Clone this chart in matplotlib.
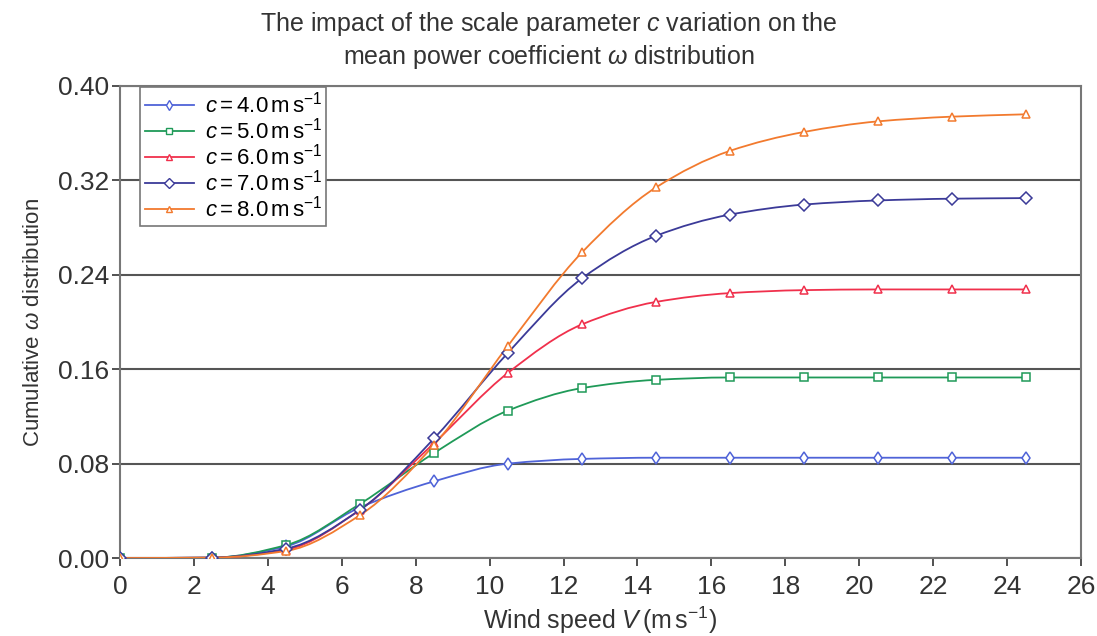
"""
plot.py
Cumulative mean power coefficient distribution for several Weibull scale parameters
"""

import numpy as np
import matplotlib
matplotlib.use("Agg")
import matplotlib.pyplot as plt
from matplotlib.path import Path
from matplotlib.patches import PathPatch

plt.rcParams["font.family"] = ["Liberation Sans", "DejaVu Sans"]
plt.rcParams["mathtext.fontset"] = "custom"
plt.rcParams["mathtext.rm"] = "Liberation Sans"
plt.rcParams["mathtext.it"] = "Liberation Sans:italic"

# wind speed bins (m/s)
wind_speed = [0, 2.5, 4.5, 6.5, 8.5, 10.5, 12.5, 14.5, 16.5, 18.5, 20.5, 22.5, 24.5]

# cumulative omega per scale parameter c
omega_c4 = [0.0, 0.0003, 0.010, 0.043, 0.065, 0.080, 0.084, 0.085, 0.085, 0.085, 0.085, 0.085, 0.085]
omega_c5 = [0.0, 0.0003, 0.011, 0.046, 0.089, 0.125, 0.144, 0.151, 0.153, 0.153, 0.153, 0.153, 0.153]
omega_c6 = [0.0, 0.0003, 0.007, 0.041, 0.0975, 0.157, 0.198, 0.217, 0.2245, 0.227, 0.2276, 0.2276, 0.2276]
omega_c7 = [0.0, 0.0003, 0.008, 0.041, 0.1015, 0.174, 0.237, 0.273, 0.291, 0.2995, 0.303, 0.3045, 0.305]
omega_c8 = [0.0, 0.0003, 0.006, 0.0365, 0.096, 0.180, 0.259, 0.314, 0.345, 0.361, 0.370, 0.374, 0.376]

scale_labels = ["4.0", "5.0", "6.0", "7.0", "8.0"]
series = [omega_c4, omega_c5, omega_c6, omega_c7, omega_c8]
colors = ["#4f63d8", "#1f9a58", "#f0304c", "#3b3a98", "#f27a2e"]
markers = ["d", "s", "^", "D", "^"]


def smooth_path(x, y):
    """Monotone cubic Bezier path through the points (drawing only)."""
    x = np.asarray(x, float)
    y = np.asarray(y, float)
    h = np.diff(x)
    d = np.diff(y) / h
    m = np.zeros_like(y)
    m[0], m[-1] = d[0], d[-1]
    for i in range(1, len(y) - 1):
        if d[i - 1] * d[i] <= 0:
            m[i] = 0.0
        else:
            w1 = 2 * h[i] + h[i - 1]
            w2 = h[i] + 2 * h[i - 1]
            m[i] = (w1 + w2) / (w1 / d[i - 1] + w2 / d[i])
    verts = [(x[0], y[0])]
    codes = [Path.MOVETO]
    for i in range(len(x) - 1):
        verts += [(x[i] + h[i] / 3, y[i] + m[i] * h[i] / 3),
                  (x[i + 1] - h[i] / 3, y[i + 1] - m[i + 1] * h[i] / 3),
                  (x[i + 1], y[i + 1])]
        codes += [Path.CURVE4] * 3
    return Path(verts, codes)


fig = plt.figure(figsize=(10.97, 6.36), dpi=100)
ax = fig.add_axes([0.1094, 0.1226, 0.876, 0.7422])

for vals, col, mk, lab in zip(series, colors, markers, scale_labels):
    ax.add_patch(PathPatch(smooth_path(wind_speed, vals), facecolor="none",
                           edgecolor=col, lw=1.3, zorder=3))
    ax.plot(wind_speed, vals, linestyle="none", marker=mk, markersize=6,
            markerfacecolor="white", markeredgecolor=col, markeredgewidth=1.1,
            zorder=4)
    # legend proxy
    ax.plot([], [], color=col, lw=1.3, marker=mk, markersize=5,
            markerfacecolor="white", markeredgecolor=col,
            label=r"$c = %s\,\mathrm{m\,s^{-1}}$" % lab)

ax.set_xlim(0, 26)
ax.set_ylim(0, 0.40)
ax.set_xticks(np.arange(0, 27, 2))
ax.set_yticks([0.0, 0.08, 0.16, 0.24, 0.32, 0.40])
ax.set_yticklabels(["0.00", "0.08", "0.16", "0.24", "0.32", "0.40"])
ax.tick_params(axis="both", labelsize=19, colors="#333333", length=6,
               width=1.2, direction="out")
ax.tick_params(axis="y", pad=2)
ax.tick_params(axis="x", pad=6)
ax.grid(axis="y", color="#555555", lw=1.5, zorder=1)
for sp in ax.spines.values():
    sp.set_color("#777777")
    sp.set_linewidth(1.5)

ax.set_xlabel(r"Wind speed $V\,(\mathrm{m\,s^{-1}})$", fontsize=18,
              color="#333333", labelpad=4)
ax.set_ylabel(r"Cumulative $\omega$ distribution", fontsize=16,
              color="#333333", labelpad=10)
fig.suptitle("The impact of the scale parameter $c$ variation on the\n"
             r"mean power coefficient $\omega$ distribution",
             fontsize=18, color="#333333", y=0.985, linespacing=1.25)

leg = ax.legend(loc="upper left", bbox_to_anchor=(0.021, 0.997), fontsize=16,
                frameon=True, fancybox=False, borderpad=0.2, labelspacing=0.0,
                handlelength=2.2, handletextpad=0.5, borderaxespad=0.0)
leg.get_frame().set_edgecolor("#777777")
leg.get_frame().set_linewidth(1.2)
leg.get_frame().set_alpha(1.0)

fig.savefig("out.png", dpi=100)
